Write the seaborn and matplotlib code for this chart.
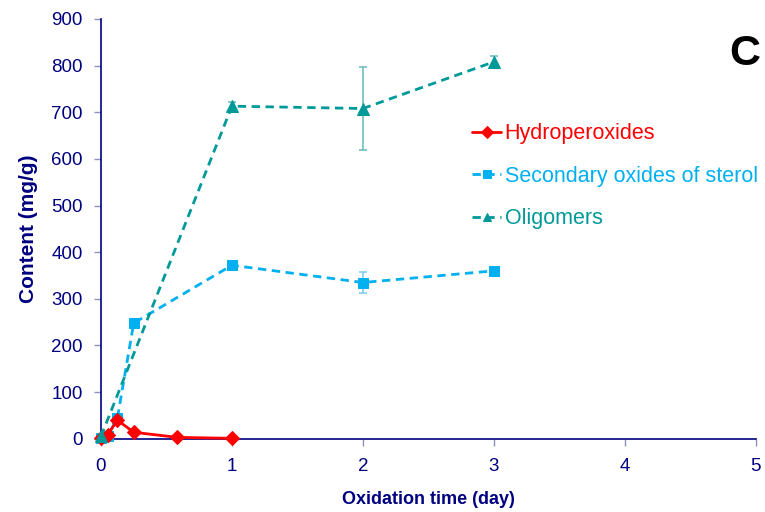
import matplotlib
matplotlib.use("Agg")
import matplotlib.pyplot as plt
import seaborn as sns
import pandas as pd

# Data
hydro_days = [0, 0.05, 0.125, 0.25, 0.583, 1]
hydro_vals = [2, 8, 40, 14, 3, 1]

sec_days = [0, 0.05, 0.125, 0.25, 1, 2, 3]
sec_vals = [2, 6, 44, 248, 372, 335, 360]
sec_err = [0, 0, 0, 0, 0, 22, 0]

olig_days = [0, 1, 2, 3]
olig_vals = [5, 713, 708, 808]
olig_err = [0, 10, 88, 13]

labels = ["Hydroperoxides", "Secondary oxides of sterol", "Oligomers"]
colors = ["#FF0000", "#00B0F0", "#009999"]
err_colors = ["#FF8080", "#80D0F0", "#70C0C0"]

sns.set_theme(style="white")
plt.rcParams['font.family'] = ['Liberation Sans', 'DejaVu Sans']

navy = "#000080"

fig = plt.figure(figsize=(7.65, 5.12), dpi=100)
ax = fig.add_axes([0.132, 0.143, 0.856, 0.820])

df_h = pd.DataFrame({"day": hydro_days, "val": hydro_vals})
df_s = pd.DataFrame({"day": sec_days, "val": sec_vals})
df_o = pd.DataFrame({"day": olig_days, "val": olig_vals})

# Error bars
ax.errorbar(sec_days, sec_vals, yerr=sec_err, fmt="none", ecolor=err_colors[1],
            elinewidth=1.2, capsize=3, capthick=1.2, zorder=2)
ax.errorbar(olig_days, olig_vals, yerr=olig_err, fmt="none", ecolor=err_colors[2],
            elinewidth=1.2, capsize=3, capthick=1.2, zorder=2)

sns.lineplot(data=df_h, x="day", y="val", ax=ax, color=colors[0], marker="D",
             markersize=7, markeredgecolor=colors[0], linewidth=2, label=labels[0],
             clip_on=False, zorder=5)
sns.lineplot(data=df_s, x="day", y="val", ax=ax, color=colors[1], marker="s",
             markersize=7.5, markeredgecolor=colors[1], linewidth=2, linestyle=(0, (3, 2)),
             label=labels[1], clip_on=False, zorder=4)
sns.lineplot(data=df_o, x="day", y="val", ax=ax, color=colors[2], marker="^",
             markersize=8.5, markeredgecolor=colors[2], linewidth=2, linestyle=(0, (3, 2)),
             label=labels[2], clip_on=False, zorder=6)

ax.set_xlim(0, 5)
ax.set_ylim(0, 900)
ax.set_xticks(range(0, 6))
ax.set_yticks(range(0, 901, 100))

for s in ["top", "right"]:
    ax.spines[s].set_visible(False)
for s in ["left", "bottom"]:
    ax.spines[s].set_color(navy)
    ax.spines[s].set_linewidth(1.2)

ax.tick_params(axis="both", direction="out", length=5, width=1, color="#9090C0",
               labelcolor=navy, labelsize=13.5, left=True, bottom=True)
ax.tick_params(axis="y", pad=8)
ax.tick_params(axis="x", pad=9)
ax.set_xlabel("Oxidation time (day)", fontsize=13, fontweight="bold", color=navy, labelpad=11)
ax.set_ylabel("Content (mg/g)", fontsize=15, fontweight="bold", color=navy, labelpad=10)

leg = ax.legend(loc="upper left", bbox_to_anchor=(0.592, 0.797), bbox_transform=fig.transFigure,
                frameon=False, fontsize=15.5, handlelength=1.35, handletextpad=0.15,
                labelspacing=1.0, labelcolor="linecolor")
for h in leg.legend_handles:
    h.set_markersize(6)

fig.text(0.974, 0.894, "C", fontsize=31, fontweight="bold", ha="center", va="center", color="black")

fig.savefig("out.png", dpi=100)
